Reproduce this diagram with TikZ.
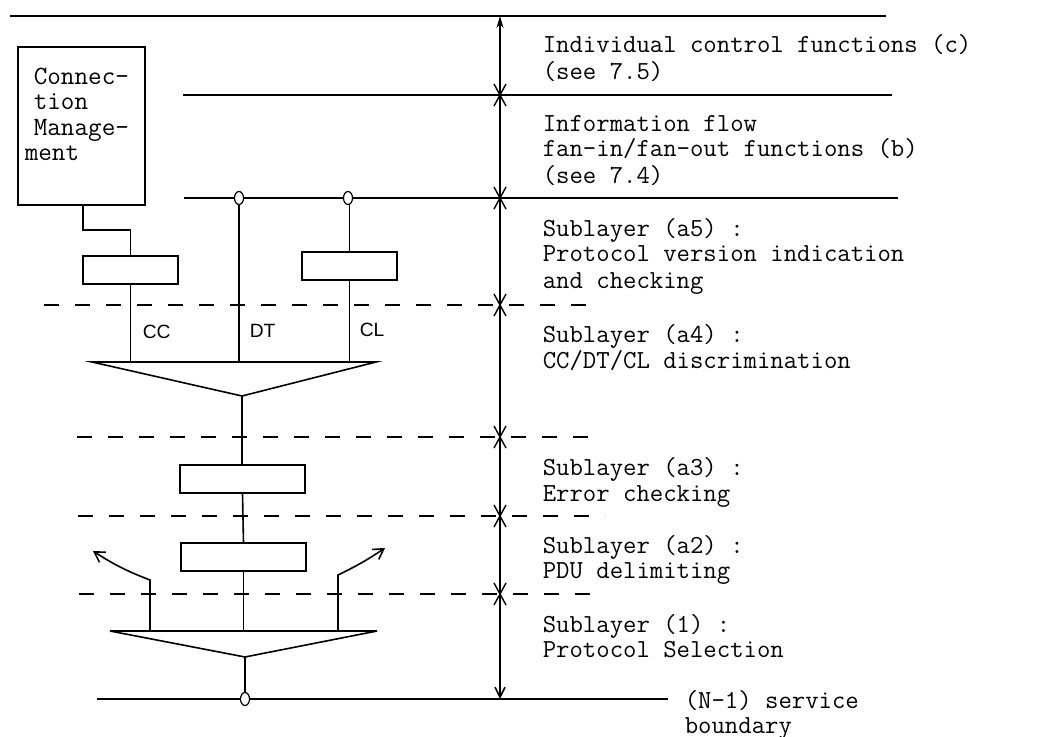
\documentclass[tikz,border=0pt]{standalone}
\usepackage{fontspec}
\setmainfont{Liberation Serif}
\newfontfamily\sansf{Liberation Sans}
\usetikzlibrary{arrows.meta,shapes.geometric}
\begin{document}
\begin{tikzpicture}[x=0.5pt,y=-0.5pt,line width=0.8pt,
  lbl/.style={anchor=base west,inner sep=0pt,font=\ttfamily\fontsize{13}{14}\selectfont},
  cmlbl/.style={anchor=north west,inner sep=0pt,align=left,font=\ttfamily\fontsize{13.2}{12.7}\selectfont},
  chlbl/.style={anchor=base west,inner sep=0pt,font=\sansf\fontsize{9.6}{11}\selectfont},
  sbox/.style={draw,fill=white,inner sep=0pt,outer sep=0pt,minimum width=47.5pt,minimum height=14pt},
  lbox/.style={draw,fill=white,inner sep=0pt,outer sep=0pt,minimum width=62.5pt,minimum height=14pt},
  cmbox/.style={draw,inner sep=0pt,outer sep=0pt,minimum width=63.5pt,minimum height=79pt},
  oring/.style={draw,ellipse,fill=white,line width=0.6pt,inner sep=0pt,outer sep=0pt,minimum width=4.5pt,minimum height=6.5pt},
  dsh/.style={dash pattern=on 7.5pt off 8pt},
  barb/.style={-{Straight Barb[length=5pt,width=6pt]}},
  xmark/.style={line width=0.7pt}
]
\useasboundingbox (0,0) rectangle (1053,737);

% horizontal boundaries
\coordinate (t0) at (10,16);   \coordinate (t1) at (886,16);
\coordinate (b0) at (183,95);  \coordinate (b1) at (892,95);
\coordinate (c0) at (184,198); \coordinate (c1) at (898,198);
\coordinate (d50) at (44,305); \coordinate (d51) at (597,305);
\coordinate (d40) at (77,437); \coordinate (d41) at (600,437);
\coordinate (d30) at (78,516); \coordinate (d31) at (605,516);
\coordinate (d20) at (79,594); \coordinate (d21) at (605,594);
\coordinate (n0) at (97,699);  \coordinate (n1) at (668,699);

\draw (t0) -- (t1);
\draw (b0) -- (b1);
\draw (c0) -- (c1);
\draw[dsh] (d50) -- (d51);
\draw[dsh] (d40) -- (d41);
\draw[dsh] (d30) -- (d31);
\draw[dsh] (d20) -- (d21);
\draw (n0) -- (n1);

% dimension line
\coordinate (dtop) at (500,16);
\coordinate (dbot) at (500,699);
\draw[{Stealth[length=6pt,width=3.5pt]}-{Straight Barb[length=5pt,width=5pt]}] (dtop) -- (dbot);
\foreach \yy in {95,198,305,437,516,594}
  \draw[xmark] (494,\yy-11) -- (506,\yy+11) (506,\yy-11) -- (494,\yy+11);

% connection management
\node[cmbox] (cm) at (81.5,126) {};
\node[cmlbl] (cmtext) at (33,67) {Connec-\\tion\\Manage-\\\hspace*{-4.5pt}ment};

% boxes
\node[sbox] (bx1) at (130.5,270) {};
\node[sbox] (bx2) at (349.5,266) {};
\node[lbox] (bx3) at (242.5,479) {};
\node[lbox] (bx4) at (243.5,557) {};

% rings
\node[oring] (o1) at (239,198) {};
\node[oring] (o2) at (348,198) {};
\node[oring] (o3) at (245,699) {};

% triangles
\coordinate (tr1l) at (92,362); \coordinate (tr1r) at (376,362); \coordinate (tr1a) at (242,396);
\coordinate (tr2l) at (110,631); \coordinate (tr2r) at (377,631); \coordinate (tr2a) at (245,657);
\draw (tr1l) -- (tr1r) -- (tr1a) -- cycle;
\draw (tr2l) -- (tr2r) -- (tr2a) -- cycle;

% connections
\draw (83,205) |- (130.5,230) -- (bx1.north);
\draw (bx1.south) -- (130.5,362);
\draw (o1.south) -- (239,362);
\draw (o2.south -| bx2.north) -- (bx2.north);
\draw (bx2.south) -- (349.5,362);
\draw (tr1a) -- (bx3.north -| tr1a);
\draw (bx3.south) -- (bx4.north);
\draw (bx4.south) -- (243.5,631);
\draw (tr2a) -- (o3.north -| tr2a);

% side arrows
\coordinate (la) at (93,551);
\coordinate (ra) at (385,548);
\draw[barb] (150,631) -- (150,580) to[bend left=6] (la);
\draw[barb] (338,631) -- (338,575) to[bend right=4] (ra);

% CC DT CL labels
\node[chlbl] (lcc) at (142,338) {CC};
\node[chlbl] (ldt) at (249,337) {DT};
\node[chlbl] (lcl) at (359,336) {CL};

% right-hand texts
\node[lbl] at (542,53) {Individual control functions (c)};
\node[lbl] at (542,80) {(see 7.5)};
\node[lbl] at (542,132) {Information flow};
\node[lbl] at (542,157) {fan-in/fan-out functions (b)};
\node[lbl] at (542,184) {(see 7.4)};
\node[lbl] at (542,237) {Sublayer (a5) :};
\node[lbl] at (542,262) {Protocol version indication};
\node[lbl] at (542,289) {and checking};
\node[lbl] at (542,343) {Sublayer (a4) :};
\node[lbl] at (542,368) {CC/DT/CL discrimination};
\node[lbl] at (542,475) {Sublayer (a3) :};
\node[lbl] at (542,501) {Error checking};
\node[lbl] at (542,553) {Sublayer (a2) :};
\node[lbl] at (542,578) {PDU delimiting};
\node[lbl] at (542,632) {Sublayer (1) :};
\node[lbl] at (542,657) {Protocol Selection};
\node[lbl] at (684,708) {(N-1) service};
\node[lbl] at (684,733) {boundary};
\end{tikzpicture}
\end{document}
